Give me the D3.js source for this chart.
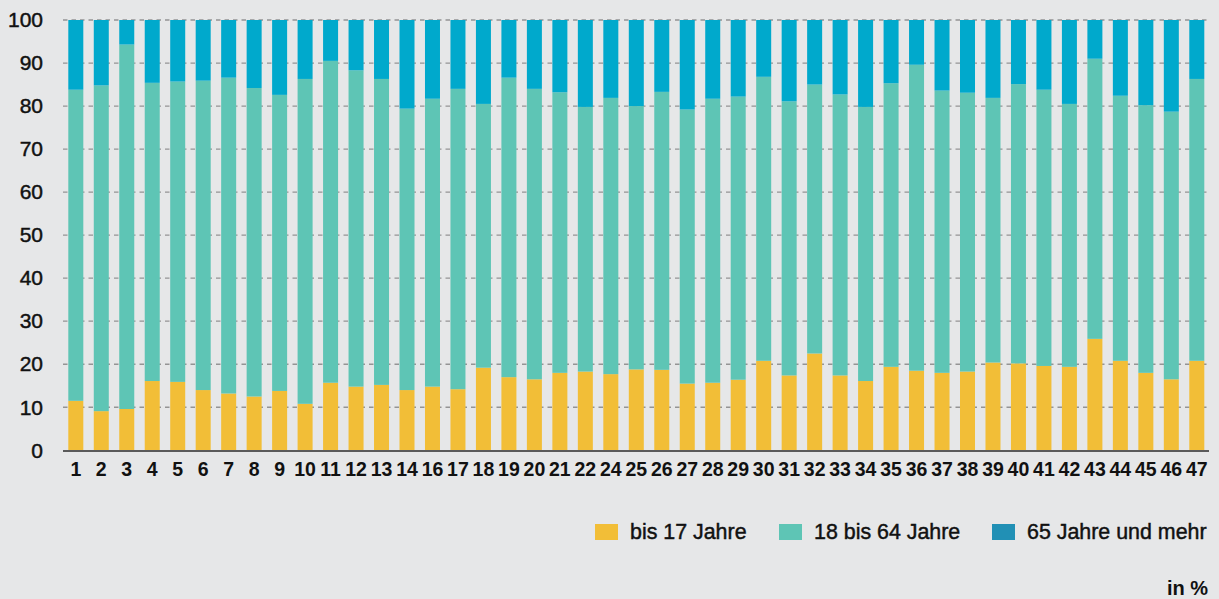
<!DOCTYPE html>
<html>
<head>
<meta charset="utf-8">
<script src="https://cdn.jsdelivr.net/npm/d3@7"></script>
<style>
  html, body { margin: 0; padding: 0; background: #e6e7e8; }
  svg { display: block; font-family: "Liberation Sans", Arial, sans-serif; }
</style>
</head>
<body>
<svg id="chart" width="1219" height="599"></svg>
<script>
// Kategorien (15 und 23 fehlen im Original)
var labels = ['1','2','3','4','5','6','7','8','9','10','11','12','13','14','16','17','18','19','20','21','22',
  '24','25','26','27','28','29','30','31','32','33','34','35','36','37','38','39','40','41','42','43','44','45','46','47'];

// Anteile in %
var bis17 = [11.5, 9.1, 9.6, 16.1, 15.9, 14.0, 13.2, 12.5, 13.8, 10.8, 15.7, 14.8, 15.2, 14.0, 14.8, 14.2, 19.2, 17.0, 16.5, 18.0, 18.3,
  17.7, 18.8, 18.7, 15.5, 15.7, 16.4, 20.8, 17.4, 22.5, 17.4, 16.1, 19.4, 18.5, 18.0, 18.3, 20.4, 20.2, 19.6, 19.4, 25.9, 20.8, 18.0, 16.5, 20.8];
var bis64 = [72.3, 75.7, 84.7, 69.3, 69.8, 71.9, 73.4, 71.7, 68.8, 75.5, 74.8, 73.5, 71.1, 65.4, 66.9, 69.8, 61.3, 69.6, 67.5, 65.2, 61.5,
  64.2, 61.2, 64.6, 63.7, 66.0, 65.8, 66.0, 63.7, 62.5, 65.3, 63.7, 65.9, 71.1, 65.6, 64.8, 61.5, 64.9, 64.2, 61.1, 65.1, 61.6, 62.2, 62.2, 65.5];
var ab65 = [16.2, 15.2, 5.7, 14.6, 14.3, 14.1, 13.4, 15.8, 17.4, 13.7, 9.5, 11.7, 13.7, 20.6, 18.3, 16.0, 19.5, 13.4, 16.0, 16.8, 20.2,
  18.1, 20.0, 16.7, 20.8, 18.3, 17.8, 13.2, 18.9, 15.0, 17.3, 20.2, 14.7, 10.4, 16.4, 16.9, 18.1, 14.9, 16.2, 19.5, 9.0, 17.6, 19.8, 21.3, 13.7];

var seriesNames = ['bis 17 Jahre', '18 bis 64 Jahre', '65 Jahre und mehr'];
var barColors = ['#f2be37', '#5ec5b5', '#00a9cc'];
var legendColors = ['#f2be37', '#5ec5b5', '#2190b5'];
var yTicks = [0, 10, 20, 30, 40, 50, 60, 70, 80, 90, 100];

var rows = labels.map(function (l, i) {
  return { label: l, a: bis17[i], b: bis64[i], c: ab65[i] };
});

var svg = d3.select('#chart');

var x = d3.scaleBand()
  .domain(labels)
  .range([63, 1209.6])
  .paddingInner(0.411)
  .paddingOuter(0.208);

var y = d3.scaleLinear()
  .domain([0, 100])
  .range([450.3, 20]);

// Gitterlinien
svg.append('g')
  .selectAll('line')
  .data(yTicks.filter(function (t) { return t > 0; }))
  .enter().append('line')
    .attr('x1', 63)
    .attr('x2', 1209)
    .attr('y1', function (d) { return y(d); })
    .attr('y2', function (d) { return y(d); })
    .attr('stroke', '#949494')
    .attr('stroke-width', 1.3)
    .attr('stroke-dasharray', '4.5,4');

// gestapelte Balken
var stack = d3.stack().keys(['a', 'b', 'c']);
var layers = stack(rows);

svg.append('g')
  .selectAll('g')
  .data(layers)
  .enter().append('g')
    .attr('fill', function (d, i) { return barColors[i]; })
  .selectAll('rect')
  .data(function (d) { return d; })
  .enter().append('rect')
    .attr('x', function (d) { return x(d.data.label); })
    .attr('width', x.bandwidth())
    .attr('y', function (d) { return y(d[1]); })
    .attr('height', function (d) { return y(d[0]) - y(d[1]); });

// Nulllinie
svg.append('line')
  .attr('x1', 63)
  .attr('x2', 1209)
  .attr('y1', y(0) + 0.7)
  .attr('y2', y(0) + 0.7)
  .attr('stroke', '#5a5a5a')
  .attr('stroke-width', 2);

// y-Achse
var yAxis = svg.append('g')
  .attr('transform', 'translate(43,0)')
  .call(d3.axisLeft(y).tickValues(yTicks).tickSize(0).tickPadding(0));
yAxis.select('.domain').remove();
yAxis.selectAll('text')
  .attr('font-family', '"Liberation Sans", Arial, sans-serif')
  .attr('font-size', 21)
  .attr('fill', '#111')
  .attr('stroke', '#111')
  .attr('stroke-width', 0.45);

// x-Achse
var xAxis = svg.append('g')
  .attr('transform', 'translate(0,' + 462 + ')')
  .call(d3.axisBottom(x).tickSize(0).tickPadding(0));
xAxis.select('.domain').remove();
xAxis.selectAll('text')
  .attr('font-family', '"Liberation Sans Narrow", "Arial Narrow", sans-serif')
  .attr('font-weight', 'bold')
  .attr('font-size', 19.5)
  .attr('fill', '#111');

// Legende
var legendX = [595, 779, 992];
var legend = svg.append('g')
  .selectAll('g')
  .data(seriesNames)
  .enter().append('g')
    .attr('transform', function (d, i) { return 'translate(' + legendX[i] + ',524)'; });
legend.append('rect')
  .attr('width', 23)
  .attr('height', 16)
  .attr('fill', function (d, i) { return legendColors[i]; });
legend.append('text')
  .attr('x', 35)
  .attr('y', 14.5)
  .attr('font-size', 21.4)
  .attr('fill', '#111')
  .attr('stroke', '#111')
  .attr('stroke-width', 0.45)
  .text(function (d) { return d; });

svg.append('text')
  .attr('x', 1208)
  .attr('y', 595)
  .attr('text-anchor', 'end')
  .attr('font-size', 20)
  .attr('font-weight', 'bold')
  .attr('fill', '#111')
  .text('in %');
</script>
</body>
</html>
